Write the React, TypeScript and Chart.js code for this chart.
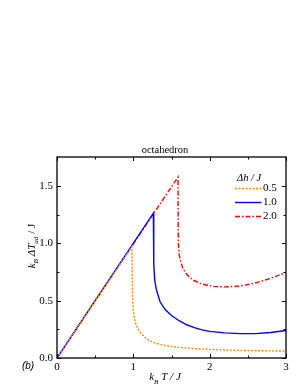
import React, { useEffect, useRef } from "react";
import { Chart, registerables } from "chart.js";

Chart.register(...registerables);

// Series: Δh/J = 0.5
const t05 = [0, 0.98, 0.984, 0.988, 0.995, 1.01, 1.03, 1.06, 1.1, 1.16, 1.22, 1.3, 1.4, 1.55, 1.7, 1.9, 2.2, 2.5, 2.8, 3.0];
const v05 = [0, 0.97, 0.8, 0.6, 0.45, 0.36, 0.3, 0.255, 0.215, 0.175, 0.148, 0.128, 0.111, 0.096, 0.087, 0.078, 0.07, 0.065, 0.062, 0.061];
// Series: Δh/J = 1.0
const t10 = [0, 1.262, 1.265, 1.27, 1.28, 1.3, 1.35, 1.42, 1.5, 1.6, 1.7, 1.8, 1.9, 2.0, 2.2, 2.4, 2.6, 2.8, 3.0];
const v10 = [0, 1.263, 1.0, 0.82, 0.68, 0.6, 0.49, 0.42, 0.37, 0.325, 0.29, 0.265, 0.245, 0.232, 0.219, 0.213, 0.213, 0.222, 0.24];
// Series: Δh/J = 2.0
const t20 = [0, 1.585, 1.587, 1.59, 1.6, 1.62, 1.65, 1.7, 1.78, 1.9, 2.05, 2.2, 2.4, 2.6, 2.8, 3.0];
const v20 = [0, 1.578, 1.2, 1.0, 0.9, 0.84, 0.78, 0.73, 0.68, 0.645, 0.625, 0.62, 0.628, 0.655, 0.695, 0.745];

const xTicks = [0, 1, 2, 3];
const xMinor = [0.5, 1.5, 2.5];
const yTicks = [0, 0.5, 1.0, 1.5];
const yMinor = [0.25, 0.75, 1.25];
const seriesLabels = ["0.5", "1.0", "2.0"];
const colors = ["#ff8c00", "#0000ff", "#ff0000"];
const dashes: number[][] = [[2, 1.5], [], [5, 2, 1.5, 2]];

const SERIF = "'Liberation Serif', 'Times New Roman', serif";
const SANS = "'Liberation Sans', Arial, sans-serif";

type Seg = { t: string; sub?: boolean; it?: boolean };

function drawRich(ctx: CanvasRenderingContext2D, segs: Seg[], cx: number, cy: number, size: number) {
  const fontFor = (s: Seg) => `${s.it ? "italic " : ""}${s.sub ? size * 0.65 : size}px ${SERIF}`;
  let w = 0;
  for (const s of segs) {
    ctx.font = fontFor(s);
    w += ctx.measureText(s.t).width;
  }
  let x = cx - w / 2;
  ctx.textBaseline = "alphabetic";
  ctx.textAlign = "left";
  for (const s of segs) {
    ctx.font = fontFor(s);
    ctx.fillText(s.t, x, cy + size * 0.35 + (s.sub ? size * 0.3 : 0));
    x += ctx.measureText(s.t).width;
  }
}

const decor = {
  id: "decor",
  afterDraw(chart: any) {
    const ctx: CanvasRenderingContext2D = chart.ctx;
    const { left, right, top, bottom } = chart.chartArea;
    const xs = chart.scales.x;
    const ys = chart.scales.y;
    ctx.save();
    ctx.strokeStyle = "#000";
    ctx.fillStyle = "#000";
    // ticks inside on all four sides
    ctx.lineWidth = 1;
    const tick = (vals: number[], len: number) => {
      for (const v of vals) {
        const px = Math.round(xs.getPixelForValue(v)) + 0.5;
        ctx.beginPath();
        ctx.moveTo(px, bottom); ctx.lineTo(px, bottom - len);
        ctx.moveTo(px, top); ctx.lineTo(px, top + len);
        ctx.stroke();
      }
    };
    const ytick = (vals: number[], len: number) => {
      for (const v of vals) {
        const py = Math.round(ys.getPixelForValue(v)) + 0.5;
        ctx.beginPath();
        ctx.moveTo(left, py); ctx.lineTo(left + len, py);
        ctx.moveTo(right, py); ctx.lineTo(right - len, py);
        ctx.stroke();
      }
    };
    tick(xTicks, 4);
    tick(xMinor, 2.5);
    ytick(yTicks, 4);
    ytick(yMinor, 2.5);
    // frame
    ctx.lineWidth = 1.3;
    ctx.strokeRect(left, top, right - left, bottom - top);

    // title
    ctx.font = `10.5px ${SERIF}`;
    ctx.textAlign = "center";
    ctx.textBaseline = "middle";
    ctx.fillText("octahedron", 165, 150);

    // x label
    drawRich(ctx, [
      { t: "k", it: true }, { t: "B", it: true, sub: true }, { t: " T / J", it: true },
    ], 165, 376.5, 11);

    // y label
    ctx.save();
    ctx.translate(31, 246);
    ctx.rotate(-Math.PI / 2);
    drawRich(ctx, [
      { t: "k", it: true }, { t: "B", it: true, sub: true }, { t: " ΔT", it: true },
      { t: "ad", it: true, sub: true }, { t: " / J" },
    ], 0, 0, 11);
    ctx.restore();

    // panel label
    ctx.font = `italic 10px ${SANS}`;
    ctx.textAlign = "center";
    ctx.textBaseline = "middle";
    ctx.fillText("(b)", 28, 366.5);

    // legend
    ctx.font = `italic 10.5px ${SERIF}`;
    ctx.textAlign = "left";
    ctx.textBaseline = "middle";
    ctx.fillText("Δh / J", 237, 178);
    const ly = [188.5, 202.5, 216.5];
    for (let i = 0; i < seriesLabels.length; i++) {
      ctx.strokeStyle = colors[i];
      ctx.lineWidth = 1.4;
      ctx.setLineDash(dashes[i]);
      ctx.beginPath();
      ctx.moveTo(235, ly[i]);
      ctx.lineTo(261.5, ly[i]);
      ctx.stroke();
      ctx.setLineDash([]);
      ctx.font = `11px ${SERIF}`;
      ctx.fillStyle = "#000";
      ctx.fillText(seriesLabels[i], 263, ly[i]);
    }
    ctx.restore();
  },
};

export default function App() {
  const ref = useRef<HTMLCanvasElement | null>(null);
  useEffect(() => {
    if (!ref.current) return;
    const mk = (ts: number[], vs: number[]) => ts.map((t, i) => ({ x: t, y: vs[i] }));
    const chart = new Chart(ref.current, {
      type: "line",
      data: {
        datasets: [
          { label: seriesLabels[0], data: mk(t05, v05), borderColor: colors[0], borderDash: dashes[0], borderWidth: 1.4, pointRadius: 0, tension: 0, fill: false },
          { label: seriesLabels[1], data: mk(t10, v10), borderColor: colors[1], borderDash: dashes[1], borderWidth: 1.4, pointRadius: 0, tension: 0, fill: false },
          { label: seriesLabels[2], data: mk(t20, v20), borderColor: colors[2], borderDash: dashes[2], borderWidth: 1.4, pointRadius: 0, tension: 0, fill: false },
        ],
      },
      options: {
        responsive: false,
        animation: false,
        devicePixelRatio: 1,
        layout: { padding: { left: 0, top: 157, right: 13, bottom: 0 } },
        plugins: { legend: { display: false }, title: { display: false }, tooltip: { enabled: false } },
        scales: {
          x: {
            type: "linear",
            min: 0,
            max: 3,
            grid: { display: false, drawTicks: false },
            border: { display: false },
            afterBuildTicks: (s: any) => { s.ticks = xTicks.map((v) => ({ value: v })); },
            afterFit: (s: any) => { s.height = 29; },
            ticks: { color: "#000", padding: 3, font: { family: SERIF, size: 11 }, callback: (v: any) => String(v), maxRotation: 0 },
          },
          y: {
            type: "linear",
            min: 0,
            max: 1.753,
            grid: { display: false, drawTicks: false },
            border: { display: false },
            afterBuildTicks: (s: any) => { s.ticks = yTicks.map((v) => ({ value: v })); },
            afterFit: (s: any) => { s.width = 57; },
            ticks: { color: "#000", padding: 4, font: { family: SERIF, size: 11 }, callback: (v: any) => Number(v).toFixed(1) },
          },
        },
      },
      plugins: [decor],
    });
    return () => chart.destroy();
  }, []);
  return (
    <div style={{ position: "absolute", left: 0, top: 0, width: 299, height: 387, background: "#fff" }}>
      <canvas ref={ref} width={299} height={387} style={{ display: "block", width: 299, height: 387 }} />
    </div>
  );
}
